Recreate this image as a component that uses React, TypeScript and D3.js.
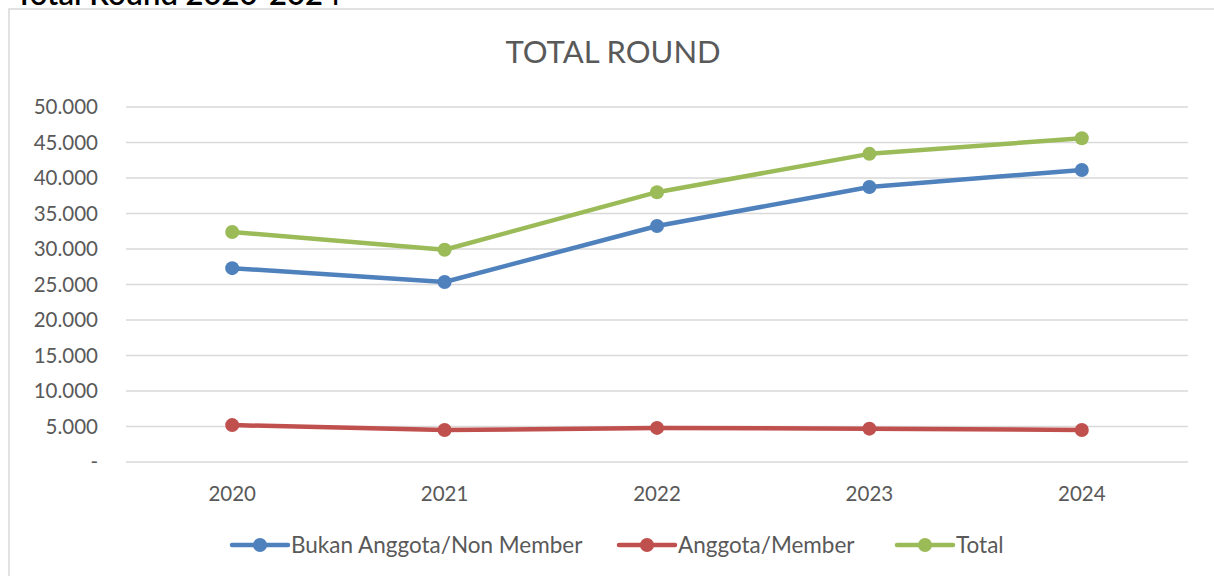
import React, { useEffect, useRef } from 'react';
import * as d3 from 'd3';

const years = ['2020', '2021', '2022', '2023', '2024'];
const nonMember = [27300, 25350, 33240, 38730, 41130];
const member = [5200, 4500, 4800, 4700, 4500];
const total = [32400, 29900, 38000, 43400, 45600];
const yTicks = [0, 5000, 10000, 15000, 20000, 25000, 30000, 35000, 40000, 45000, 50000];

const seriesNames = ['Bukan Anggota/Non Member', 'Anggota/Member', 'Total'];
const seriesColors = ['#4F81BD', '#C0504D', '#9BBB59'];

const App: React.FC = () => {
	const svgRef = useRef<SVGSVGElement | null>(null);

	useEffect(() => {
		if (svgRef.current == null) return;

		const width = 1214;
		const height = 576;
		const font = 'Lato, "Open Sans", sans-serif';
		const textColor = '#595959';

		const x = d3.scalePoint<string>()
			.domain(years)
			.range([126, 1188])
			.padding(0.5);

		const y = d3.scaleLinear()
			.domain([0, 50000])
			.range([462, 107]);

		const locale = d3.formatLocale({ decimal: ',', thousands: '.', grouping: [3], currency: ['', ''] });
		const fmt = (v: number) => (v === 0 ? '-' : locale.format(',')(v));

		const svg = d3.select(svgRef.current);
		svg.selectAll('*').remove();
		svg.attr('width', width).attr('height', height);

		// page heading, cut off by the top edge
		svg.append('text')
			.attr('x', 15)
			.attr('y', 5)
			.attr('font-family', font)
			.attr('font-size', 31)
			.attr('font-weight', 600)
			.attr('fill', '#000')
			.text('Total Round 2020-2024');

		// chart frame
		svg.append('rect')
			.attr('x', 9)
			.attr('y', 9)
			.attr('width', 1220)
			.attr('height', 580)
			.attr('fill', '#fff')
			.attr('stroke', '#D9D9D9')
			.attr('stroke-width', 1.5);

		svg.append('text')
			.attr('x', 613)
			.attr('y', 63)
			.attr('text-anchor', 'middle')
			.attr('font-family', font)
			.attr('font-size', 31)
			.attr('fill', textColor)
			.text('TOTAL ROUND');

		// gridlines
		svg.append('g')
			.selectAll('line')
			.data(yTicks)
			.join('line')
			.attr('x1', 126)
			.attr('x2', 1188)
			.attr('y1', d => y(d))
			.attr('y2', d => y(d))
			.attr('stroke', '#D9D9D9')
			.attr('stroke-width', 1.5);

		svg.append('g')
			.selectAll('text')
			.data(yTicks)
			.join('text')
			.attr('x', 98)
			.attr('y', d => y(d) + 7)
			.attr('text-anchor', 'end')
			.attr('font-family', font)
			.attr('font-size', 20.5)
			.attr('fill', textColor)
			.text(d => fmt(d));

		svg.append('g')
			.selectAll('text')
			.data(years)
			.join('text')
			.attr('x', d => x(d)!)
			.attr('y', 501)
			.attr('text-anchor', 'middle')
			.attr('font-family', font)
			.attr('font-size', 20.5)
			.attr('fill', textColor)
			.text(d => d);

		const seriesData = [nonMember, member, total];

		const line = d3.line<number>()
			.x((_, i) => x(years[i])!)
			.y(d => y(d));

		seriesData.forEach((values, si) => {
			const g = svg.append('g');
			g.append('path')
				.datum(values)
				.attr('fill', 'none')
				.attr('stroke', seriesColors[si])
				.attr('stroke-width', 4.5)
				.attr('stroke-linejoin', 'round')
				.attr('d', line);
			g.selectAll('circle')
				.data(values)
				.join('circle')
				.attr('cx', (_, i) => x(years[i])!)
				.attr('cy', d => y(d))
				.attr('r', 7)
				.attr('fill', seriesColors[si]);
		});

		// legend
		const legendX = [232, 619, 897];
		const legend = svg.append('g');
		seriesNames.forEach((name, i) => {
			const lx = legendX[i];
			legend.append('line')
				.attr('x1', lx)
				.attr('x2', lx + 56)
				.attr('y1', 545)
				.attr('y2', 545)
				.attr('stroke', seriesColors[i])
				.attr('stroke-width', 4.5)
				.attr('stroke-linecap', 'round');
			legend.append('circle')
				.attr('cx', lx + 28)
				.attr('cy', 545)
				.attr('r', 7)
				.attr('fill', seriesColors[i]);
			legend.append('text')
				.attr('x', lx + 59)
				.attr('y', 553)
				.attr('font-family', font)
				.attr('font-size', 22.5)
				.attr('fill', textColor)
				.text(name);
		});
	}, []);

	return (
		<svg ref={svgRef} style={{ position: 'absolute', left: 0, top: 0 }}></svg>
	);
};

export default App;
